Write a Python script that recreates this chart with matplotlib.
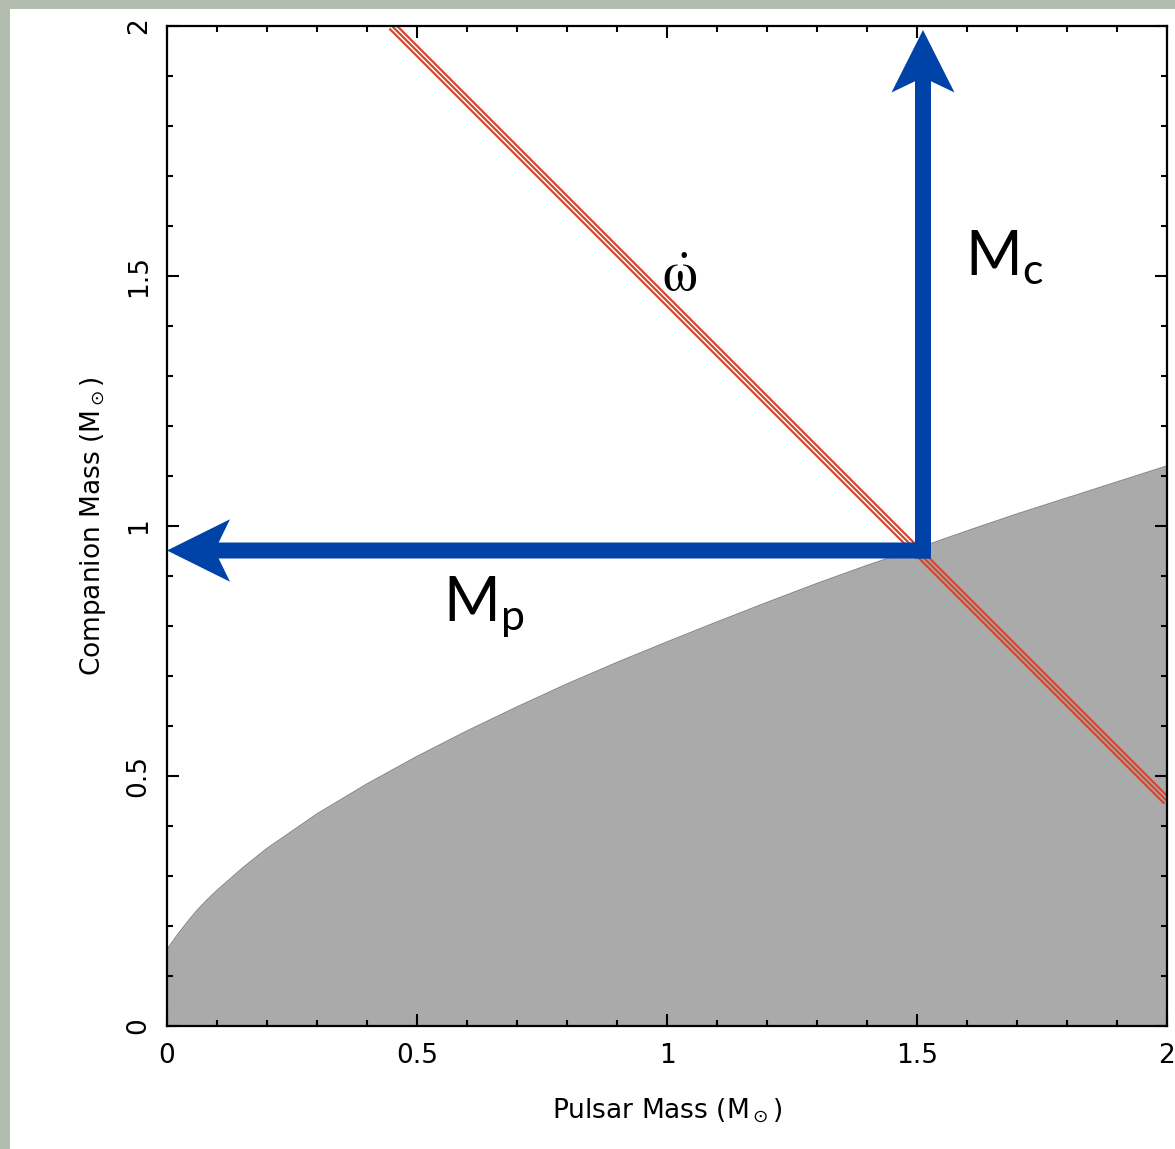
import matplotlib
matplotlib.use('Agg')
import matplotlib.pyplot as plt
import matplotlib.transforms as mtransforms
from matplotlib.patches import FancyArrow, Rectangle
from matplotlib.ticker import MultipleLocator

# mass-function limit (pulsar mass, companion mass)
limit_mp = [0.0, 0.003, 0.01, 0.02, 0.03, 0.045, 0.06, 0.08, 0.1, 0.15, 0.2,
            0.3, 0.4, 0.5, 0.6, 0.7, 0.8, 0.9, 1.0, 1.1, 1.2, 1.3, 1.4, 1.5,
            1.6, 1.7, 1.8, 1.9, 2.0]
limit_mc = [0.15, 0.157, 0.167, 0.181, 0.194, 0.213, 0.231, 0.252, 0.271,
            0.315, 0.355, 0.424, 0.484, 0.539, 0.59, 0.638, 0.684, 0.727,
            0.768, 0.808, 0.847, 0.885, 0.921, 0.955, 0.99, 1.024, 1.056,
            1.088, 1.12]

# omega-dot constraint line
omdot_mp = [0.45, 2.0]
omdot_mc = [2.0, 0.45]

# measured masses (where the arrows start)
mp_meas = 1.512
mc_meas = 0.951

xticks = [0, 0.5, 1, 1.5, 2]
xticklabels = ['0', '0.5', '1', '1.5', '2']
yticks = [0, 0.5, 1, 1.5, 2]
yticklabels = ['0', '0.5', '1', '1.5', '2']

RED = '#d4462e'
BLUE = '#0043a8'
GREY = '#aaaaaa'

fig = plt.figure(figsize=(11.75, 11.49), dpi=100)
fig.patch.set_facecolor('white')

# grey-green frame strips on top and left
fig.add_artist(Rectangle((0, 1 - 9 / 1149), 1, 9 / 1149, transform=fig.transFigure,
                         color='#b2bdb0', lw=0))
fig.add_artist(Rectangle((0, 0), 10 / 1175, 1, transform=fig.transFigure,
                         color='#b2bdb0', lw=0))

ax = fig.add_axes([167 / 1175, 123 / 1149, 1000 / 1175, 1000 / 1149])
ax.set_xlim(0, 2)
ax.set_ylim(0, 2)

# excluded region below the mass-function curve
ax.fill_between(limit_mp, 0, limit_mc, color=GREY, lw=0, zorder=1)
ax.plot(limit_mp, limit_mc, color='#8c8c8c', lw=1.0, zorder=1.1)

# omega-dot line drawn as three thin parallel strokes
for off in (-2.6, 0.0, 2.6):
    tr = mtransforms.offset_copy(ax.transData, fig=fig, x=off, y=off, units='dots')
    ax.plot(omdot_mp, omdot_mc, color=RED, lw=1.6, transform=tr,
            solid_capstyle='butt', zorder=2)

# arrows to the axes
shaft = 0.032
ax.add_patch(FancyArrow(mp_meas + 0.015, mc_meas, -(mp_meas + 0.015), 0,
                        width=shaft, head_width=0.125, head_length=0.126,
                        overhang=0.18, length_includes_head=True,
                        color=BLUE, lw=0, zorder=4, clip_on=False))
ax.add_patch(FancyArrow(mp_meas, mc_meas - shaft / 2, 0, 1.992 - (mc_meas - shaft / 2),
                        width=shaft, head_width=0.126, head_length=0.125,
                        overhang=0.18, length_includes_head=True,
                        color=BLUE, lw=0, zorder=4, clip_on=False))

ax.text(1.596, 1.502, r'$\mathregular{M_c}$', fontsize=44, family='Lato',
        ha='left', va='baseline', zorder=5)
ax.text(0.552, 0.812, r'$\mathregular{M_p}$', fontsize=44, family='Lato',
        ha='left', va='baseline', zorder=5)
ax.text(1.026, 1.50, r'$\dot{\mathrm{\omega}}$', fontsize=40, math_fontfamily='stix',
        ha='center', va='center', zorder=5)

# ticks on all sides, pointing in
ax.set_xticks(xticks)
ax.set_xticklabels(xticklabels)
ax.set_yticks(yticks)
ax.set_yticklabels(yticklabels, rotation=90, va='center')
ax.xaxis.set_minor_locator(MultipleLocator(0.1))
ax.yaxis.set_minor_locator(MultipleLocator(0.1))
ax.tick_params(which='both', direction='in', top=True, right=True, width=1.5,
               color='black')
ax.tick_params(which='major', length=8.5)
ax.tick_params(which='minor', length=4.5)
ax.tick_params(axis='x', labelsize=19, pad=12)
ax.tick_params(axis='y', labelsize=19, pad=11)
for s in ax.spines.values():
    s.set_linewidth(1.6)

ax.set_xlabel(r'Pulsar Mass (M$_\odot$)', fontsize=19)
ax.xaxis.set_label_coords(0.5, -0.07)
ax.set_ylabel(r'Companion Mass (M$_\odot$)', fontsize=19, va='center')
ax.yaxis.set_label_coords(-0.074, 0.5)

fig.savefig('out.png', dpi=100, facecolor=fig.get_facecolor())
